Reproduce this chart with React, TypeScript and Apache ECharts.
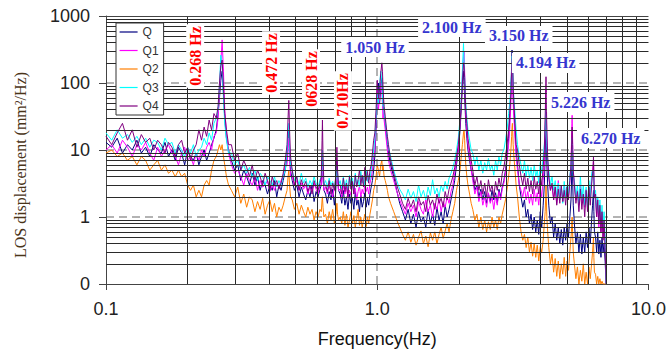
import React, { useEffect, useRef } from "react";
import * as echarts from "echarts";

const seriesNames = ["Q", "Q1", "Q2", "Q3", "Q4"];
const seriesColors = ["#000080", "#ff00ff", "#ff7f00", "#00ffff", "#800080"];

const freqs = [
  0.100, 0.105, 0.110, 0.115, 0.120, 0.125, 0.130, 0.135, 0.140, 0.145, 0.150, 0.155, 0.160, 0.165, 0.170, 0.175, 0.180, 0.185, 0.190, 0.195, 0.200, 0.205, 0.210, 0.215, 0.220, 0.225, 0.230, 0.235, 0.240, 0.245, 0.250,
  0.255, 0.259, 0.262, 0.265, 0.268, 0.271, 0.274, 0.278, 0.283,
  0.290, 0.298, 0.306, 0.314, 0.322, 0.330, 0.338, 0.346, 0.354, 0.362, 0.370, 0.378, 0.386, 0.394, 0.402, 0.410, 0.418, 0.426, 0.434, 0.442, 0.450, 0.458,
  0.465, 0.469, 0.472, 0.475, 0.479,
  0.486, 0.495, 0.505, 0.515, 0.525, 0.535, 0.545, 0.555, 0.565, 0.575, 0.585, 0.595, 0.605, 0.615,
  0.622, 0.626, 0.628, 0.631, 0.636,
  0.645, 0.655, 0.665, 0.675, 0.685, 0.695, 0.702,
  0.706, 0.710, 0.714, 0.720,
  0.73, 0.74, 0.75, 0.76, 0.77, 0.78, 0.79, 0.80, 0.81, 0.82, 0.83, 0.84, 0.85, 0.86, 0.87, 0.88, 0.89, 0.90, 0.91, 0.92, 0.93, 0.94, 0.95, 0.96, 0.97,
  0.98, 0.99, 1.00, 1.01, 1.02, 1.03, 1.04, 1.045, 1.05, 1.055, 1.06, 1.07, 1.08, 1.09, 1.10,
  1.12, 1.15, 1.18, 1.21, 1.24, 1.27, 1.30, 1.33, 1.36, 1.39, 1.42, 1.45, 1.48, 1.51, 1.54, 1.57, 1.60, 1.63, 1.66, 1.69, 1.72, 1.75, 1.78, 1.81, 1.84, 1.87, 1.90, 1.93, 1.96,
  1.99, 2.02, 2.04, 2.06, 2.08, 2.09, 2.10, 2.11, 2.12, 2.14, 2.16, 2.19, 2.22,
  2.25, 2.29, 2.33, 2.37, 2.41, 2.45, 2.49, 2.53, 2.57, 2.61, 2.65, 2.69, 2.73, 2.77, 2.81, 2.85, 2.89, 2.93, 2.97, 3.01, 3.05,
  3.08, 3.11, 3.13, 3.14, 3.15, 3.16, 3.17, 3.19, 3.22, 3.25,
  3.29, 3.34, 3.39, 3.44, 3.49, 3.54, 3.59, 3.64, 3.69, 3.74, 3.79, 3.84, 3.89, 3.94, 3.99, 4.04, 4.09, 4.13,
  4.16, 4.18, 4.19, 4.20, 4.22, 4.25,
  4.29, 4.35, 4.41, 4.47, 4.53, 4.59, 4.65, 4.71, 4.77, 4.83, 4.89, 4.95, 5.01, 5.07, 5.13, 5.18,
  5.20, 5.22, 5.23, 5.25, 5.28,
  5.33, 5.40, 5.47, 5.54, 5.61, 5.68, 5.75, 5.82, 5.89, 5.96, 6.03, 6.10, 6.17, 6.22,
  6.25, 6.27, 6.29, 6.32,
  6.38, 6.44, 6.50, 6.56, 6.62, 6.68, 6.74, 6.80, 6.86, 6.92, 6.98,
];

const q = [
  13, 11, 15, 9, 12, 10, 14, 9, 11, 8, 12, 10, 9, 13, 8, 10, 7, 11, 9, 6, 10, 8, 7, 9, 6, 8, 10, 7, 9, 12, 15,
  20, 35, 60, 110, 150, 70, 30, 15, 10,
  7, 5, 6, 3.5, 5, 4, 3, 4.5, 3, 4, 2.5, 3.5, 3, 2.2, 3, 2.5, 3.5, 2, 3, 2.5, 3.5, 5,
  8, 15, 20, 10, 5,
  3.5, 2.5, 3, 2, 2.8, 2.2, 1.8, 2.5, 2, 3, 1.7, 2.4, 2, 2.6,
  3, 6, 8, 4, 2.5,
  2.2, 1.6, 2.4, 1.8, 2.6, 1.5, 2.2,
  3.5, 7, 4, 2.5,
  2.2, 1.6, 2.5, 1.5, 2, 1.3, 2.2, 1.6, 1.9, 1.3, 2.4, 1.5, 1.8, 1.2, 2.1, 1.4, 1.7, 2.3, 1.4, 1.9, 1.5, 2.2, 2.8, 3.5, 5,
  8, 20, 60, 100, 50, 80, 120, 90, 60, 40, 35, 25, 18, 12, 9,
  6, 4, 2.5, 1.6, 1.2, 0.9, 1.3, 0.8, 1.1, 0.7, 1.2, 0.85, 1, 0.7, 1.3, 0.8, 1.1, 0.75, 1.4, 0.9, 1.2, 0.8, 1.5, 1, 1.3, 1.8, 2.5, 3.5, 6,
  10, 20, 40, 90, 150, 100, 60, 40, 25, 15, 10, 7, 5,
  4, 2.5, 3, 2, 2.6, 1.8, 2.4, 1.6, 2.2, 1.7, 2.5, 1.8, 2.3, 1.6, 2.6, 2, 2.8, 3.5, 5, 8, 15,
  30, 80, 180, 310, 200, 120, 70, 40, 20, 10,
  6, 3, 2, 1.4, 1.8, 1, 1.3, 0.8, 1.1, 0.65, 1, 0.6, 0.9, 0.55, 1.2, 0.7, 1.5, 3,
  8, 20, 30, 15, 6, 3,
  1.5, 0.8, 1, 0.5, 0.8, 0.45, 0.7, 0.4, 0.65, 0.38, 0.7, 0.45, 0.8, 0.5, 1, 1.8,
  3, 6, 8, 4, 1.5,
  0.8, 0.4, 0.6, 0.3, 0.55, 0.28, 0.5, 0.3, 0.6, 0.35, 0.7, 0.4, 0.9, 1.5,
  1.5, 2.5, 1.2, 0.6,
  0.5, 0.3, 0.6, 0.28, 0.45, 0.25, 0.5, 0.3, 0.4, 0.22, 0.1,
];

const q1 = [
  10, 12, 9, 14, 11, 8, 12, 10, 13, 9, 7, 11, 8, 10, 12, 9, 8, 6, 9, 11, 7, 8, 6, 9, 7, 10, 8, 11, 13, 10, 16,
  18, 30, 70, 200, 440, 150, 40, 18, 9,
  6, 4.5, 5, 4, 3, 4.5, 3.5, 3, 4, 2.5, 3.5, 2.8, 3, 3.5, 2.4, 3, 2.5, 3.2, 2.8, 3.5, 4, 6,
  6, 10, 15, 8, 4,
  4, 3, 3.5, 2.5, 3.2, 2.6, 3, 2.2, 2.8, 2.4, 3.2, 2.6, 2.2, 3,
  3, 5, 6, 3.5, 2.5,
  2.8, 2.2, 3, 2.4, 2, 2.8, 3,
  3.5, 5, 3.5, 2.5,
  2.6, 2, 3, 2.2, 2.8, 1.9, 2.5, 2.1, 3.2, 2.2, 2.7, 1.8, 2.4, 2.9, 2, 2.6, 2.2, 3, 2.4, 2.8, 2.2, 3.2, 3.8, 5, 8,
  10, 25, 80, 40, 60, 100, 70, 50, 30, 40, 28, 20, 14, 10, 7,
  5, 3.5, 2.4, 1.8, 1.4, 1.1, 1.6, 1.2, 1.5, 1, 1.7, 1.3, 1.1, 1.8, 1.2, 1.5, 1, 1.6, 1.3, 1.9, 1.2, 1.7, 1.4, 2, 1.6, 2.4, 3, 4.5, 7,
  10, 25, 50, 120, 250, 300, 150, 60, 35, 20, 12, 8, 5,
  3.5, 2.2, 2.8, 1.7, 2.4, 1.5, 2, 1.4, 2.3, 1.6, 2, 1.3, 2.1, 1.5, 2.4, 1.8, 2.6, 3.2, 4.5, 7, 12,
  20, 50, 100, 150, 120, 80, 50, 30, 15, 8,
  5, 3, 2.5, 2, 2.8, 1.8, 2.4, 1.6, 2.2, 1.5, 2.6, 1.7, 2.3, 1.5, 2.8, 2, 3.5, 6,
  20, 50, 80, 40, 15, 6,
  4, 2.5, 3, 1.8, 2.8, 1.6, 3.5, 2, 2.6, 1.7, 3, 1.9, 2.8, 2, 3.5, 6,
  12, 25, 33, 15, 5,
  3, 1.8, 2.5, 1.5, 3, 1.6, 2.2, 1.4, 2.6, 1.6, 3, 2, 3.5, 5,
  5, 7, 4, 2,
  1.8, 1, 1.5, 0.7, 1.3, 0.6, 1.1, 0.5, 0.8, 0.4, 0.1,
];

const q2 = [
  9, 10, 8, 9, 7, 8, 6, 8, 7, 5, 6, 7, 5, 6, 4.5, 5, 4, 5, 4, 4.5, 3, 2.5, 3, 2, 2.5, 2, 3, 3.5, 3, 5, 7,
  8, 10, 12, 10, 12, 8, 6, 4, 3,
  2.5, 2, 2.8, 1.6, 2.2, 1.4, 2, 1.8, 1.2, 1.7, 1.3, 1.9, 1.1, 1.5, 1.8, 1.2, 1.6, 1.0, 1.4, 1.2, 1.5, 2,
  2.5, 4, 5, 3, 2,
  1.8, 1.3, 1.6, 1.1, 1.5, 1.2, 1.0, 1.4, 1.1, 1.3, 0.9, 1.2, 1.0, 1.3,
  1.2, 1.8, 2, 1.4, 1,
  1.1, 0.8, 1.2, 0.9, 1.3, 0.8, 1,
  1.2, 1.6, 1.1, 0.9,
  1, 0.8, 1.2, 0.75, 1.1, 0.7, 0.9, 1.2, 0.8, 1.05, 0.7, 0.95, 1.3, 0.75, 1, 0.7, 0.9, 1.1, 0.72, 1, 0.8, 1.1, 1.4, 1.8, 2.5,
  3, 4, 6, 5, 4, 6, 7, 5, 6, 5, 4, 3.5, 3, 2.5, 2,
  1.6, 1.2, 0.9, 0.7, 0.55, 0.45, 0.6, 0.42, 0.55, 0.38, 0.5, 0.62, 0.4, 0.52, 0.36, 0.58, 0.45, 0.6, 0.4, 0.55, 0.7, 0.48, 0.62, 0.8, 0.6, 0.9, 1.2, 1.6, 2.5,
  3.5, 5, 8, 12, 18, 20, 14, 9, 6, 4, 3, 2.2, 1.6,
  1.3, 0.9, 1.1, 0.7, 1, 0.65, 0.9, 0.6, 0.85, 0.65, 1, 0.7, 0.9, 0.65, 1, 0.8, 1.1, 1.4, 1.8, 2.6, 4,
  6, 10, 16, 22, 25, 18, 12, 8, 5, 3,
  2, 1, 0.6, 0.45, 0.55, 0.35, 0.5, 0.3, 0.42, 0.26, 0.4, 0.25, 0.38, 0.22, 0.36, 0.3, 0.45, 0.8,
  1.2, 2, 3, 2, 1, 0.6,
  0.35, 0.2, 0.28, 0.15, 0.24, 0.13, 0.22, 0.12, 0.2, 0.14, 0.25, 0.13, 0.22, 0.16, 0.3, 0.5,
  0.6, 0.9, 1, 0.6, 0.3,
  0.2, 0.12, 0.18, 0.1, 0.16, 0.11, 0.2, 0.1, 0.15, 0.1, 0.18, 0.12, 0.2, 0.3,
  0.3, 0.5, 0.25, 0.15,
  0.14, 0.1, 0.13, 0.1, 0.12, 0.1, 0.11, 0.1, 0.1, 0.1, 0.1,
];

const q3 = [
  18, 14, 20, 15, 17, 13, 16, 12, 15, 11, 14, 13, 10, 15, 12, 13, 9, 12, 10, 8, 11, 9, 12, 8, 10, 11, 15, 12, 18, 14, 25,
  30, 40, 90, 260, 180, 60, 25, 14, 9,
  9, 6, 7, 5, 6, 4.5, 5.5, 4, 5, 3.5, 4.5, 4, 3, 4, 3.5, 3, 4, 2.8, 3.5, 3, 4, 5,
  10, 18, 25, 12, 6,
  5, 3.5, 4, 3, 4.5, 3.2, 3.8, 2.8, 3.5, 3, 4, 3.2, 2.8, 3.6,
  4, 8, 10, 5, 3,
  3.5, 2.8, 3.8, 3, 3.4, 2.6, 3.5,
  4, 6, 4.5, 3,
  3.5, 2.6, 4, 2.8, 3.6, 2.5, 4.2, 3, 3.8, 2.6, 4.5, 3, 3.6, 2.8, 4.8, 3.2, 4, 3, 5, 3.4, 4.2, 3.6, 5, 7, 10,
  15, 30, 70, 50, 90, 150, 110, 70, 45, 50, 35, 28, 20, 15, 11,
  8, 5, 3.5, 2.6, 2.2, 1.8, 2.6, 1.9, 2.4, 1.7, 3, 2, 2.5, 1.8, 2.8, 2.1, 3.6, 2.2, 2.7, 2, 3, 2.4, 3.4, 2.6, 3.8, 4.5, 5.5, 7, 10,
  15, 30, 60, 150, 390, 200, 120, 80, 50, 30, 20, 14, 10,
  9, 6, 8, 5, 7, 4.5, 6.5, 5, 7.5, 5, 6, 4.2, 7, 5, 8, 6, 9, 10, 14, 20, 35,
  50, 90, 160, 250, 200, 140, 90, 60, 35, 20,
  12, 8, 6, 4.5, 7, 4, 6, 3.8, 5.5, 3.5, 6, 4, 5, 3.2, 6.5, 4.5, 8, 12,
  20, 35, 40, 25, 12, 7,
  5, 3, 4, 2.5, 3.5, 2, 3.2, 1.8, 3, 1.6, 3.4, 2, 3, 2.2, 4, 6,
  8, 12, 15, 9, 4,
  3.5, 2, 3, 1.6, 4, 1.8, 3, 1.5, 2.8, 1.4, 3.5, 2, 4.5, 5,
  4, 5, 3, 2,
  2.5, 1.2, 2, 0.9, 1.8, 0.8, 1.5, 0.7, 1.2, 0.5, 0.1,
];

const q4 = [
  16, 12, 18, 25, 14, 20, 11, 17, 13, 15, 10, 14, 12, 9, 13, 11, 8, 12, 14, 9, 11, 7, 10, 12, 20, 14, 22, 16, 28, 20, 35,
  30, 45, 100, 180, 220, 90, 35, 20, 12,
  12, 7, 9, 5, 7, 5.5, 4, 6, 3.5, 5, 4, 3, 4.5, 3.5, 2.5, 4, 3, 3.5, 2.6, 3.2, 4.5, 7,
  12, 30, 55, 20, 8,
  5, 3, 4, 2.5, 3.6, 2.8, 3.4, 2.4, 3, 2.2, 3.5, 2.8, 2.5, 3.2,
  4, 14, 28, 8, 3,
  3, 2.4, 3.5, 2.2, 3.2, 2.5, 3.8,
  5, 11, 5, 3,
  3, 2.2, 3.8, 2.4, 3.2, 2, 4, 2.6, 3.4, 2.2, 4.2, 2.8, 3.6, 5, 3, 4.2, 2.8, 5.5, 3.5, 4.8, 3.2, 5, 6, 9, 14,
  18, 40, 110, 60, 80, 140, 200, 150, 90, 60, 45, 32, 22, 16, 12,
  7, 4.5, 3, 2.2, 1.6, 1.3, 1.9, 1.4, 1.8, 1.2, 2, 1.5, 1.7, 1.2, 2.1, 1.5, 1.8, 1.3, 2.2, 1.6, 1.9, 1.4, 2.4, 1.8, 2.6, 3.2, 4, 5.5, 8,
  12, 25, 50, 100, 200, 180, 120, 70, 40, 25, 15, 10, 7,
  5, 3, 4, 2.5, 3.5, 2.2, 3.2, 2, 3.6, 2.4, 3, 2, 3.4, 2.5, 3.8, 2.8, 4.5, 5.5, 8, 12, 20,
  35, 70, 150, 220, 250, 160, 90, 50, 25, 12,
  10, 6, 4, 3, 4.5, 2.6, 3.8, 2.4, 3.5, 2.2, 4, 2.6, 3.4, 2.2, 4.2, 3, 5.5, 10,
  30, 80, 124, 60, 20, 8,
  4, 2.5, 3.2, 1.8, 2.8, 1.5, 2.6, 1.6, 3, 1.7, 2.5, 1.5, 2.8, 1.8, 3.5, 6,
  10, 18, 22, 12, 5,
  3, 1.6, 2.4, 1.2, 2.6, 1.3, 2.2, 1, 2.5, 1.2, 2.8, 1.5, 3, 4.5,
  5, 8, 4, 2,
  2.2, 1, 1.8, 0.8, 1.5, 0.6, 1.2, 0.45, 0.9, 0.35, 0.1,
];

const seriesValues = [q, q1, q2, q3, q4];

// Peak annotation texts
const peakLabels = ["0.268 Hz", "0.472 Hz", "0628 Hz", "0.710Hz", "1.050 Hz", "2.100 Hz", "3.150 Hz", "4.194 Hz", "5.226 Hz", "6.270 Hz"];
const peakLabelVertical = [true, true, true, true, false, false, false, false, false, false];
// anchor of each annotation in data space [frequency, value]
const peakLabelAnchors: [number, number][] = [
  [0.2132, 253], [0.406, 199], [0.570, 115], [0.7475, 54], [0.981, 344],
  [1.884, 685], [3.324, 503], [4.179, 199], [5.623, 52], [7.254, 15.1],
];

const xMinorGrid = [0.2, 0.3, 0.4, 0.5, 0.6, 0.7, 0.8, 0.9, 2, 3, 4, 5, 6, 7, 8, 9];
const yMinorGrid = [
  0.2, 0.3, 0.4, 0.5, 0.6, 0.7, 0.8, 0.9,
  2, 3, 4, 5, 6, 7, 8, 9,
  20, 30, 40, 50, 60, 70, 80, 90,
  200, 300, 400, 500, 600, 700, 800, 900,
];

function buildOption() {
  const dataSeries = seriesNames.map((name, si) => ({
    name,
    type: "line",
    symbol: "none",
    showSymbol: false,
    z: 3,
    clip: true,
    lineStyle: { color: seriesColors[si], width: 1 },
    itemStyle: { color: seriesColors[si] },
    data: freqs.map((f, i) => [f, seriesValues[si][i]]),
  }));

  const gridSeries = {
    name: "_grid",
    type: "line",
    z: 1,
    silent: true,
    symbol: "none",
    data: [[1, 1]],
    lineStyle: { opacity: 0 },
    markLine: {
      silent: true,
      symbol: ["none", "none"],
      label: { show: false },
      emphasis: { disabled: true },
      lineStyle: { color: "#2a2a2a", width: 1, type: "solid" },
      data: [
        ...xMinorGrid.map((v) => ({ xAxis: v })),
        ...yMinorGrid.map((v) => ({ yAxis: v })),
        { yAxis: 1000, lineStyle: { color: "#444", width: 1, type: "solid" } },
      ],
    },
  };

  const annotSeries = {
    name: "_annot",
    type: "line",
    z: 10,
    silent: true,
    symbol: "none",
    data: [[1, 1]],
    lineStyle: { opacity: 0 },
    markPoint: {
      silent: true,
      symbol: "circle",
      symbolSize: 0,
      data: peakLabels.map((t, i) => ({
        coord: peakLabelAnchors[i],
        value: t,
        label: {
          show: true,
          position: "inside",
          formatter: t,
          rotate: peakLabelVertical[i] ? 90 : 0,
          color: peakLabelVertical[i] ? "#ff0000" : "#3535cf",
          fontFamily: "Liberation Serif",
          fontWeight: "bold",
          fontSize: 16,
          backgroundColor: "#ffffff",
          padding: peakLabelVertical[i] ? [1, 2] : [2, 4],
        },
      })),
    },
  };

  return {
    animation: false,
    backgroundColor: "#ffffff",
    grid: { left: 106, right: 20, top: 16, bottom: 75, containLabel: false },
    legend: {
      data: seriesNames,
      orient: "vertical",
      left: 116,
      top: 23,
      itemWidth: 18,
      itemHeight: 12,
      itemGap: 6.5,
      padding: [3, 5, 3, 3],
      backgroundColor: "#ffffff",
      borderColor: "#333",
      borderWidth: 1,
      z: 20,
      itemStyle: { opacity: 0, borderWidth: 0 },
      lineStyle: { width: 1.2 },
      textStyle: { fontSize: 12, color: "#333", fontFamily: "Liberation Sans" },
    },
    xAxis: {
      type: "log",
      logBase: 10,
      min: 0.1,
      max: 10,
      name: "Frequency(Hz)",
      nameLocation: "middle",
      nameGap: 46,
      nameTextStyle: { fontSize: 18, color: "#111", fontFamily: "Liberation Sans" },
      axisLine: { show: true, onZero: false, lineStyle: { color: "#444", width: 1 } },
      axisTick: { show: true, length: 6, lineStyle: { color: "#444" } },
      axisLabel: {
        margin: 16,
        fontSize: 18,
        color: "#222",
        fontFamily: "Liberation Sans",
        formatter: (v: number) => v.toFixed(1),
      },
      splitLine: {
        show: true,
        showMinLine: false,
        showMaxLine: false,
        lineStyle: { color: "#9a9a9a", type: [8, 5], width: 1.5 },
      },
    },
    yAxis: {
      type: "log",
      logBase: 10,
      min: 0.1,
      max: 1000,
      axisLine: { show: true, onZero: false, lineStyle: { color: "#444", width: 1 } },
      axisTick: { show: true, length: 7, lineStyle: { color: "#444" } },
      axisLabel: {
        margin: 16,
        fontSize: 18,
        color: "#222",
        fontFamily: "Liberation Sans",
        formatter: (v: number) => (v < 1 ? "0" : String(Math.round(v))),
      },
      splitLine: {
        show: true,
        showMinLine: false,
        showMaxLine: false,
        lineStyle: { color: "#9a9a9a", type: [8, 5], width: 1.5 },
      },
    },
    graphic: [
      {
        type: "text",
        x: 20,
        y: 165,
        rotation: Math.PI / 2,
        style: {
          text: "LOS displacement (mm²/Hz)",
          font: '16px "Liberation Serif"',
          fill: "#4a3418",
          align: "center",
          verticalAlign: "middle",
        },
      },
    ],
    series: [gridSeries, ...dataSeries, annotSeries],
  };
}

export default function App() {
  const ref = useRef<HTMLDivElement>(null);
  useEffect(() => {
    if (!ref.current) return;
    const chart = echarts.init(ref.current, undefined, { renderer: "svg" });
    chart.setOption(buildOption() as any);
    return () => chart.dispose();
  }, []);
  return (
    <div
      ref={ref}
      style={{ position: "fixed", left: 0, top: 0, width: 669, height: 359, background: "#fff" }}
    />
  );
}
